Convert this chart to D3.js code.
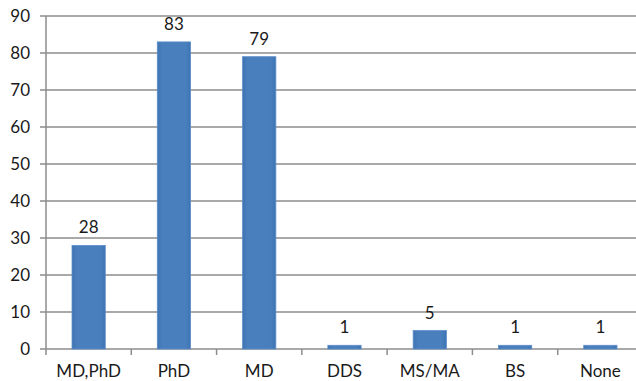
<!DOCTYPE html>
<html>
<head>
<meta charset="utf-8">
<script src="https://cdn.jsdelivr.net/npm/d3@7"></script>
<style>
  body { margin: 0; background: #fff; }
  svg { display: block; }
  text { font-family: Lato, "Open Sans", sans-serif; fill: #1a1a1a; }
</style>
</head>
<body>
<svg id="chart" width="636" height="381"></svg>
<script>
// Degree categories and counts
const categories = ["MD,PhD", "PhD", "MD", "DDS", "MS/MA", "BS", "None"];
const counts = [28, 83, 79, 1, 5, 1, 1];
const yTicks = [0, 10, 20, 30, 40, 50, 60, 70, 80, 90];

const svg = d3.select("#chart");
const plotLeft = 46, plotRight = 643, plotTop = 16, plotBottom = 349;
const fontSize = 17;

const x = d3.scaleBand().domain(categories).range([plotLeft, plotRight]).paddingInner(0.61).paddingOuter(0.305);
const y = d3.scaleLinear().domain([0, 90]).range([plotBottom, plotTop]);

const defs = svg.append("defs");
const grad = defs.append("linearGradient").attr("id", "barGrad").attr("x1", 0).attr("x2", 1).attr("y1", 0).attr("y2", 0);
grad.append("stop").attr("offset", "0%").attr("stop-color", "#3f74b3");
grad.append("stop").attr("offset", "15%").attr("stop-color", "#4a7fbd");
grad.append("stop").attr("offset", "85%").attr("stop-color", "#4a7fbd");
grad.append("stop").attr("offset", "100%").attr("stop-color", "#3f74b3");

// Horizontal gridlines with ticks extending left of the axis
svg.append("g").selectAll("line").data(yTicks).join("line")
  .attr("x1", plotLeft - 6).attr("x2", 636)
  .attr("y1", d => y(d)).attr("y2", d => y(d))
  .attr("stroke", "#8c8c8c").attr("stroke-width", 1.5);

// Y axis line
svg.append("line").attr("x1", plotLeft).attr("x2", plotLeft).attr("y1", plotTop).attr("y2", plotBottom + 6)
  .attr("stroke", "#8c8c8c").attr("stroke-width", 1.5);

// Y tick labels
svg.append("g").selectAll("text").data(yTicks).join("text")
  .attr("x", 30).attr("y", d => y(d)).attr("dy", "0.36em")
  .attr("text-anchor", "end").attr("font-size", fontSize).text(d => d);

// X tick marks at band boundaries
const step = x.step();
svg.append("g").selectAll("line").data(d3.range(1, categories.length)).join("line")
  .attr("x1", i => plotLeft + i * step).attr("x2", i => plotLeft + i * step)
  .attr("y1", plotBottom).attr("y2", plotBottom + 6)
  .attr("stroke", "#8c8c8c").attr("stroke-width", 1.5);

// Bars
svg.append("g").selectAll("rect").data(categories).join("rect")
  .attr("x", d => x(d)).attr("width", x.bandwidth())
  .attr("y", (d, i) => y(counts[i])).attr("height", (d, i) => y(0) - y(counts[i]))
  .attr("fill", "url(#barGrad)").attr("stroke", "#5d8ec8").attr("stroke-width", 0.8);

// Value labels
svg.append("g").selectAll("text").data(categories).join("text")
  .attr("x", d => x(d) + x.bandwidth() / 2)
  .attr("y", (d, i) => y(counts[i]) - 12)
  .attr("text-anchor", "middle").attr("font-size", fontSize)
  .text((d, i) => counts[i]);

// Category labels
svg.append("g").selectAll("text").data(categories).join("text")
  .attr("x", d => x(d) + x.bandwidth() / 2).attr("y", 377)
  .attr("text-anchor", "middle").attr("font-size", fontSize).text(d => d);
</script>
</body>
</html>
